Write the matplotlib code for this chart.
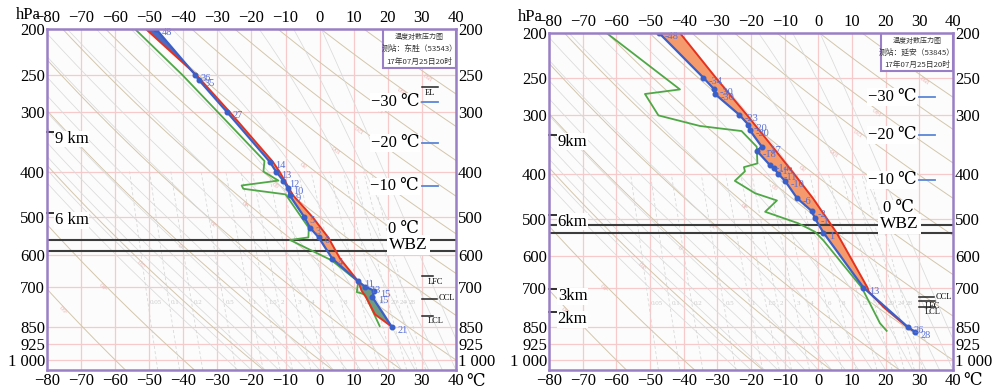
import numpy as np
import matplotlib
matplotlib.use('Agg')
import matplotlib.pyplot as plt
from matplotlib.patches import Rectangle
from matplotlib.ticker import NullLocator

plt.rcParams['font.family'] = ['Liberation Serif', 'DejaVu Serif', 'Noto Sans CJK SC']

# ---------------- data ----------------
p_ticks = [200, 250, 300, 400, 500, 600, 700, 850, 925, 1000]
p_tick_labels = ['200', '250', '300', '400', '500', '600', '700', '850', '925', '1 000']
t_ticks = [-80, -70, -60, -50, -40, -30, -20, -10, 0, 10, 20, 30, 40]
t_tick_labels = ['\u221280', '\u221270', '\u221260', '\u221250', '\u221240', '\u221230',
                 '\u221220', '\u221210', '0', '10', '20', '30', '40']
mix_ratios = [0.05, 0.1, 0.2, 0.5, 1, 1.5, 2, 3, 4, 6, 8, 12, 16, 20, 24, 28]
mix_labels = ['0.05', '0.1', '0.2', '0.5', '1', '1.5', '2', '3', '4', '6', '8', '12', '16', '20', '24', '28']
theta_label_vals = [-60, -40, -20, 0, 20, 40, 60, 80, 100, 120, 140, 160, 180]
theta_label_p = [776, 692, 622, 569, 512, 464, 422, 384, 357, 324, 292, 268, 250]

# Station 1: Dongsheng 53543
L_title = ['温度对数压力图', '测站：东胜（53543）', '17年07月25日20时']
L_env_p = [200, 250, 256, 300, 381, 400, 418, 434, 449, 498, 526, 551, 611, 682, 700, 714, 737, 850]
L_env_T = [-48.0, -36.5, -35.5, -27.1, -14.7, -12.8, -10.7, -9.3, -8.8, -4.6, -2.8, -0.3, 3.7,
           11.3, 13.3, 16.0, 15.5, 21.1]
L_env_lab = ['48', '36', '35', '27', '14', '13', '12', '10', '9', '5', '3', '0', '4', '11', '13', '15', '15', '21']
L_par_p = [200, 250, 300, 381, 400, 449, 500, 551, 611, 682, 714, 737, 801, 850]
L_par_T = [-51.0, -36.2, -26.3, -13.8, -11.8, -7.8, -2.0, 2.5, 6.0, 11.3, 12.3, 13.6, 16.2, 21.1]
L_dew_p = [200, 250, 380, 400, 418, 428, 435, 447, 526, 551, 558, 616, 683, 719, 727, 848]
L_dew_T = [-54.2, -40.3, -16.2, -16.5, -12.1, -22.9, -22.4, -10.0, -3.2, -3.3, -8.7, 3.5,
           11.3, 10.9, 13.3, 17.6]
L_lvl_names = ['EL', 'LFC', 'CCL', 'LCL']
L_lvl_p = [265, 666, 743, 806]
L_iso_labels = ['\u221230 \u2103', '\u221220 \u2103', '\u221210 \u2103']
L_iso_p = [285, 348, 430]
L_line_p = [557, 590]
L_km_labels = ['9 km', '6 km']
L_km_p = [330, 490]

# Station 2: Yan'an 53845
R_title = ['温度对数压力图', '测站：延安（53845）', '17年07月25日20时']
R_env_p = [200, 249, 264, 270, 299, 314, 323, 350, 357, 383, 389, 400, 414, 451, 480, 498, 534, 700, 851, 870]
R_env_T = [-47.3, -34.2, -30.9, -30.7, -23.5, -20.8, -20.3, -16.8, -18.3, -14.4, -13.2, -11.9,
           -9.9, -6.3, -2.0, -1.0, 1.5, 13.4, 26.7, 28.7]
R_env_lab = ['-48', '-34', '-30', '-30', '-23', '-20', '-20', '-17', '-18', '-14', '-13', '-11',
             '-10', '-6', '-2', '-1', '1', '13', '26', '28']
R_par_p = [200, 250, 300, 350, 400, 451, 534, 700, 715, 763, 770, 851, 870]
R_par_T = [-41.1, -30.3, -21.1, -13.6, -7.2, -1.6, 5.4, 14.6, 15.0, 18.8, 19.3, 26.5, 28.7]
R_dew_p = [200, 264, 270, 300, 316, 324, 350, 380, 387, 395, 414, 440, 456, 482, 510, 532, 555, 700, 834, 866]
R_dew_T = [-62.9, -41.1, -51.5, -47.5, -35.2, -22.8, -18.3, -18.1, -22.1, -21.8, -24.8, -18.8,
           -12.3, -15.8, -6.0, -1.0, 1.5, 12.9, 18.3, 20.3]
R_lvl_names = ['CCL', 'LFC', 'LCL']
R_lvl_p = [734, 748, 770]
R_iso_labels = ['\u221230 \u2103', '\u221220 \u2103', '\u221210 \u2103']
R_iso_p = [274, 330, 412]
R_line_p = [515, 536]
R_km_labels = ['9km', '6km', '3km', '2km']
R_km_p = [330, 489, 706, 791]

# ---------------- styles ----------------
PURPLE = '#9a7ec6'
PINK = '#f6caca'
DRY = '#d3c6ab'
MOIST = '#dadada'
MIX = '#d6d6d6'
BLUE = '#3a5fc8'
RED = '#e5321f'
GREEN = '#4fa845'
ORANGE = '#f49a6c'
BLUEFILL = '#4b6cc4'
GREENFILL = '#6f9b80'
LABBLUE = '#5870d6'


def moist_profile(T0C, pp):
    Rd, cp, Lv, eps = 287.04, 1005.7, 2.501e6, 0.622

    def f(T, p):
        Tc = T - 273.15
        es = 6.112 * np.exp(17.67 * Tc / (Tc + 243.5))
        rs = eps * es / (p - es)
        return (Rd * T + Lv * rs) / (cp + Lv * Lv * rs * eps / (Rd * T * T))

    T = T0C + 273.15
    out = [T]
    lnp = np.log(pp)
    for i in range(1, len(pp)):
        h = lnp[i] - lnp[i - 1]
        p0, p1 = pp[i - 1], pp[i]
        pm = np.exp(0.5 * (lnp[i] + lnp[i - 1]))
        k1 = f(T, p0)
        k2 = f(T + 0.5 * h * k1, pm)
        k3 = f(T + 0.5 * h * k2, pm)
        k4 = f(T + h * k3, p1)
        T = T + h * (k1 + 2 * k2 + 2 * k3 + k4) / 6
        out.append(T)
    return np.array(out) - 273.15


def slope_angle(ax, x0, y0, x1, y1):
    a = ax.transData.transform((x0, y0))
    b = ax.transData.transform((x1, y1))
    return np.degrees(np.arctan2(b[1] - a[1], b[0] - a[0]))


def draw_panel(ax, d):
    ax.set_yscale('log')
    ax.set_xlim(-80, 40)
    ax.set_ylim(1050, 200)
    ax.set_facecolor('#fcfcfc')

    # isotherms / isobars
    for t in t_ticks[1:-1]:
        ax.axvline(t, color=PINK, lw=0.9, zorder=1)
    for p in p_ticks[1:]:
        ax.axhline(p, color=PINK, lw=0.9, zorder=1)

    pp = np.geomspace(1050, 200, 220)
    # dry adiabats
    for th in range(-60, 211, 20):
        T = (th + 273.15) * (pp / 1000.0) ** 0.2857 - 273.15
        ax.plot(T, pp, color=DRY, lw=0.7, zorder=1)
    # moist adiabats
    for T0 in range(-24, 45, 4):
        ax.plot(moist_profile(T0, pp), pp, color=MOIST, lw=0.55, zorder=1)
    # mixing ratio lines
    pm = np.geomspace(1050, 400, 60)
    for w, lab in zip(mix_ratios, mix_labels):
        e = w * pm / (622.0 + w)
        le = np.log(e / 6.112)
        Td = 243.5 * le / (17.67 - le)
        ax.plot(Td, pm, color=MIX, lw=0.55, ls=(0, (4, 3)), zorder=1)
        e0 = w * 756 / (622.0 + w)
        l0 = np.log(e0 / 6.112)
        ax.annotate(lab, (243.5 * l0 / (17.67 - l0), 756), xytext=(1.5, 0), textcoords='offset points',
                    fontsize=5, color='#cccccc', ha='left', va='center', zorder=1)
    # dry adiabat labels
    for th, p in zip(theta_label_vals, theta_label_p):
        T = (th + 273.15) * (p / 1000.0) ** 0.2857 - 273.15
        T2 = (th + 273.15) * (p * 0.95 / 1000.0) ** 0.2857 - 273.15
        ang = slope_angle(ax, T, p, T2, p * 0.95)
        ax.text(T, p, str(th), fontsize=5, color='#efb4b4', rotation=ang, ha='center', va='center',
                rotation_mode='anchor', zorder=1)

    # fills
    pmax = min(max(d['env_p']), max(d['par_p']))
    pg = np.geomspace(200, pmax, 1200)
    te = np.interp(np.log(pg), np.log(d['env_p']), d['env_T'])
    tp = np.interp(np.log(pg), np.log(d['par_p']), d['par_T'])
    ax.fill_betweenx(pg, te, tp, where=tp >= te, interpolate=True, color=ORANGE, lw=0, zorder=2)
    ax.fill_betweenx(pg, te, tp, where=(te > tp) & (pg < 450), interpolate=True, color=BLUEFILL, lw=0, zorder=2)
    ax.fill_betweenx(pg, te, tp, where=(te > tp) & (pg >= 450), interpolate=True, color=GREENFILL, lw=0, zorder=2)

    # zero / WBZ lines
    for p in d['line_p']:
        ax.axhline(p, color='#3c3c3c', lw=1.5, zorder=3.5)

    # profiles
    ax.plot(d['dew_T'], d['dew_p'], color=GREEN, lw=1.3, zorder=4)
    ax.plot(d['par_T'], d['par_p'], color=RED, lw=1.4, zorder=4.5)
    ax.plot(d['env_T'], d['env_p'], color=BLUE, lw=1.6, marker='o', ms=3.3, zorder=5)
    for T, p, lab in zip(d['env_T'], d['env_p'], d['env_lab']):
        ax.annotate(lab, (T, p), xytext=(4.0, -2.5), textcoords='offset points', fontsize=7.5,
                    color=LABBLUE, ha='left', va='center', zorder=6)

    # right side labels
    wb = dict(facecolor='white', edgecolor='none', pad=0.6)
    for lab, p in zip(d['iso_labels'], d['iso_p']):
        ax.text(29.2, p, lab, fontsize=12, ha='right', va='center', bbox=wb, zorder=7)
        ax.plot([29.9, 34.7], [p, p], color='#5b86d6', lw=1.3, zorder=7)
    ax.text(d['zero_T'], d['zero_p'], '0 \u2103', fontsize=12, ha='center', va='center', bbox=wb, zorder=7)
    ax.text(d['wbz_T'], d['wbz_p'], 'WBZ', fontsize=12.5, ha='center', va='center',
            bbox=dict(facecolor='white', edgecolor='none', pad=1.6), zorder=7)

    for name, p in zip(d['lvl_names'], d['lvl_p']):
        if name == 'CCL':
            ax.plot([30.0, 34.5], [p, p], color='#222222', lw=1.1, zorder=7)
            ax.annotate(name, (34.6, p), xytext=(0.5, 0.5), textcoords='offset points', fontsize=6,
                        ha='left', va='center', zorder=7)
        elif name == 'EL':
            ax.plot([30.0, 34.7], [p, p], color='#222222', lw=1.1, zorder=7)
            ax.annotate(name, (32.4, p), xytext=(0, -1.5), textcoords='offset points', fontsize=6,
                        ha='center', va='top', zorder=7)
        else:
            ax.plot([30.0, d['lvl_len']], [p, p], color='#222222', lw=1.1, zorder=7)
            ax.annotate(name, (31.6, p), xytext=(0, -1.0), textcoords='offset points', fontsize=6,
                        ha='left', va='top', zorder=7)

    # km marks
    for lab, p in zip(d['km_labels'], d['km_p']):
        ax.plot([-80, d['km_len']], [p, p], color='#222222', lw=1.3, zorder=7, clip_on=False)
        ax.annotate(lab, (-80, p), xytext=(d['km_dx'], -5), textcoords='offset points', fontsize=12,
                    ha='left', va='center', bbox=dict(facecolor='white', edgecolor='none', pad=0.3), zorder=7)

    # title box
    ax.add_patch(Rectangle((d['box_x'], d['box_y']), 1 - d['box_x'], 1 - d['box_y'], transform=ax.transAxes,
                           facecolor='white', edgecolor=PURPLE, lw=1.5, zorder=8))
    cx = (d['box_x'] + 1) / 2
    for txt, yy, fs in zip(d['title'], d['title_y'], [5.0, 5.6, 5.6]):
        ax.text(cx, yy, txt, transform=ax.transAxes, fontsize=fs, family=['Noto Sans CJK SC'],
                ha='center', va='center', color='#333333', zorder=9)

    # axes ticks
    ax.set_yticks(p_ticks)
    ax.set_yticklabels(p_tick_labels)
    ax.yaxis.set_minor_locator(NullLocator())
    ax.set_xticks(t_ticks)
    ax.set_xticklabels(t_tick_labels)
    ax.tick_params(axis='both', which='both', length=0, labelsize=12, top=True, labeltop=True,
                   right=True, labelright=True)
    ax.tick_params(axis='x', pad=2.5)
    ax.tick_params(axis='y', pad=1.5)
    for s in ax.spines.values():
        s.set_color(PURPLE)
        s.set_linewidth(1.8)
        s.set_zorder(10)
    ax.text(1.0245, -0.034, '\u2103', transform=ax.transAxes, fontsize=12, ha='left', va='center',
            clip_on=False)


fig = plt.figure(figsize=(9.94, 3.89), dpi=100)
ax1 = fig.add_axes([47 / 994, 19 / 389, 409 / 994, 341 / 389])
ax2 = fig.add_axes([549 / 994, 19 / 389, 404 / 994, 337 / 389])

d1 = dict(env_p=L_env_p, env_T=L_env_T, env_lab=L_env_lab, par_p=L_par_p, par_T=L_par_T,
          dew_p=L_dew_p, dew_T=L_dew_T, lvl_names=L_lvl_names, lvl_p=L_lvl_p, lvl_len=33.3,
          iso_labels=L_iso_labels, iso_p=L_iso_p, line_p=L_line_p, zero_T=24.5, zero_p=528,
          wbz_T=26.0, wbz_p=572, km_labels=L_km_labels, km_p=L_km_p, km_len=-76.2, km_dx=5.5,
          title=L_title, box_x=0.8208, box_y=0.8848, title_y=[0.9765, 0.9413, 0.9032])
d2 = dict(env_p=R_env_p, env_T=R_env_T, env_lab=R_env_lab, par_p=R_par_p, par_T=R_par_T,
          dew_p=R_dew_p, dew_T=R_dew_T, lvl_names=R_lvl_names, lvl_p=R_lvl_p, lvl_len=34.6,
          iso_labels=R_iso_labels, iso_p=R_iso_p, line_p=R_line_p, zero_T=23.7, zero_p=474,
          wbz_T=24.0, wbz_p=512, km_labels=R_km_labels, km_p=R_km_p, km_len=-75.3, km_dx=6.3,
          title=R_title, box_x=0.821, box_y=0.8872, title_y=[0.977, 0.9415, 0.905])

draw_panel(ax1, d1)
draw_panel(ax2, d2)

fig.text(28 / 994, 1 - 15 / 389, 'hPa', fontsize=12, ha='center', va='center')
fig.text(530 / 994, 1 - 17 / 389, 'hPa', fontsize=12, ha='center', va='center')

fig.savefig('out.png', dpi=100)
